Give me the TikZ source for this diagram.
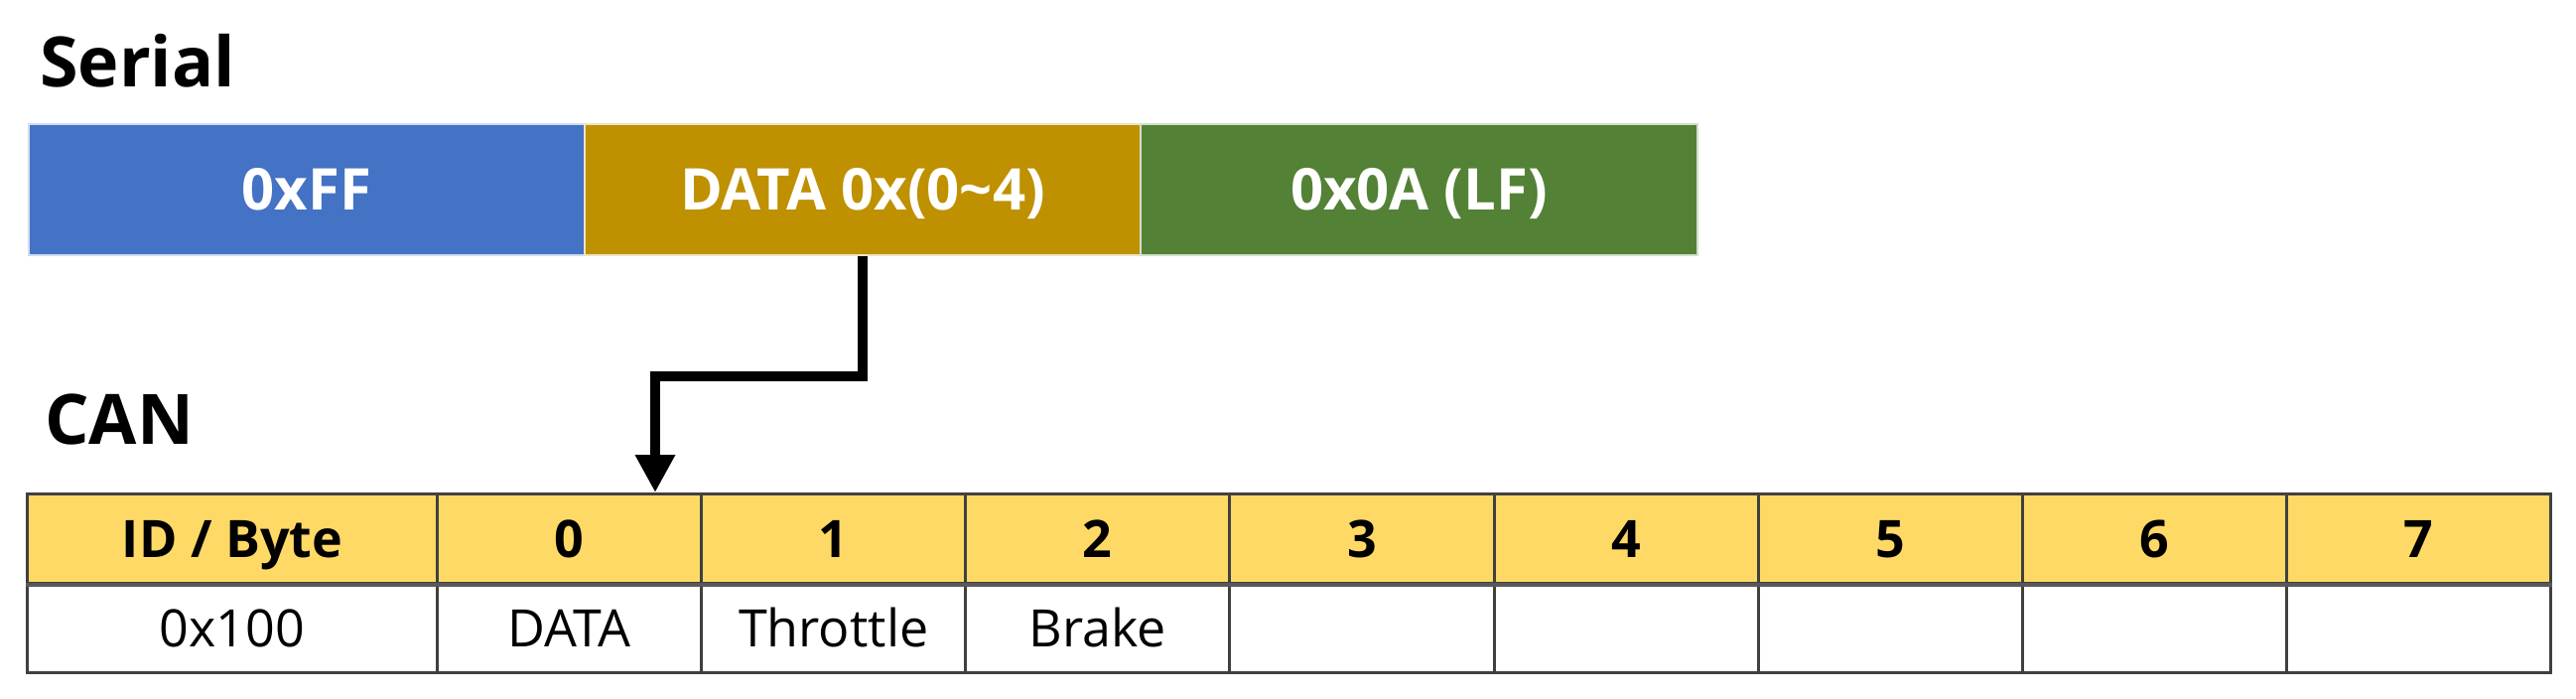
\documentclass[tikz,border=0pt]{standalone}
\usepackage{fontspec}
\setmainfont{Open Sans}
\usetikzlibrary{arrows.meta}
\definecolor{serblue}{HTML}{4472C4}
\definecolor{sergold}{HTML}{BF9000}
\definecolor{sergreen}{HTML}{538135}
\definecolor{hdr}{HTML}{FFD966}
\definecolor{grid}{HTML}{404040}
\tikzset{
  title/.style={anchor=base west, inner sep=0pt, font=\fontsize{70}{80}\selectfont\bfseries},
  serbox/.style={anchor=north west, minimum width=560pt, minimum height=132pt, inner sep=0pt,
    text height=41pt, text depth=0pt,
    draw=white!75!#1, fill=#1, line width=2pt, text=white, font=\fontsize{58}{64}\selectfont\bfseries},
  cell/.style={anchor=north west, minimum height=90pt, inner sep=0pt, draw=grid, line width=3pt,
    text height=37pt, text depth=0pt},
  hcell/.style={cell, fill=hdr, font=\fontsize{52}{60}\selectfont\bfseries},
  dcell/.style={cell, fill=white, font=\fontsize{52}{60}\selectfont},
  link/.style={line width=10pt, draw=black, -{Triangle[length=38pt,width=38pt]}}
}
\begin{document}
\begin{tikzpicture}[x=1pt,y=-1pt]
\useasboundingbox (0,0) rectangle (2595,704);
% titles
\node[title] (serial) at (40,87) {Serial};
\node[title] (can) at (45,447) {CAN};
% serial frame
\node[serbox=serblue] (ff) at (28,124) {0xFF};
\node[serbox=sergold] (data) at (588,124) {DATA 0x(0\textasciitilde 4)};
\node[serbox=sergreen, minimum width=561pt] (lf) at (1148,124) {0x0A (LF)};
% CAN table
\node[hcell, minimum width=413pt] (hid) at (26,496) {ID / Byte};
\node[dcell, minimum width=413pt] (did) at (26,586) {0x100};
\foreach \i/\t in {0/DATA,1/Throttle,2/Brake,3/,4/,5/,6/,7/}{
  \node[hcell, minimum width=266.125pt] (h\i) at ({439+\i*266.125},496) {\i};
  \node[dcell, minimum width=266.125pt] (d\i) at ({439+\i*266.125},586) {\t};
}
\draw[line width=4pt, draw=black!65] (hid.south west) -- (h7.south east);
% arrow
\coordinate (bend) at (660,379);
\draw[link] (data.south) |- (bend) -- (bend |- h0.north);
\end{tikzpicture}
\end{document}
